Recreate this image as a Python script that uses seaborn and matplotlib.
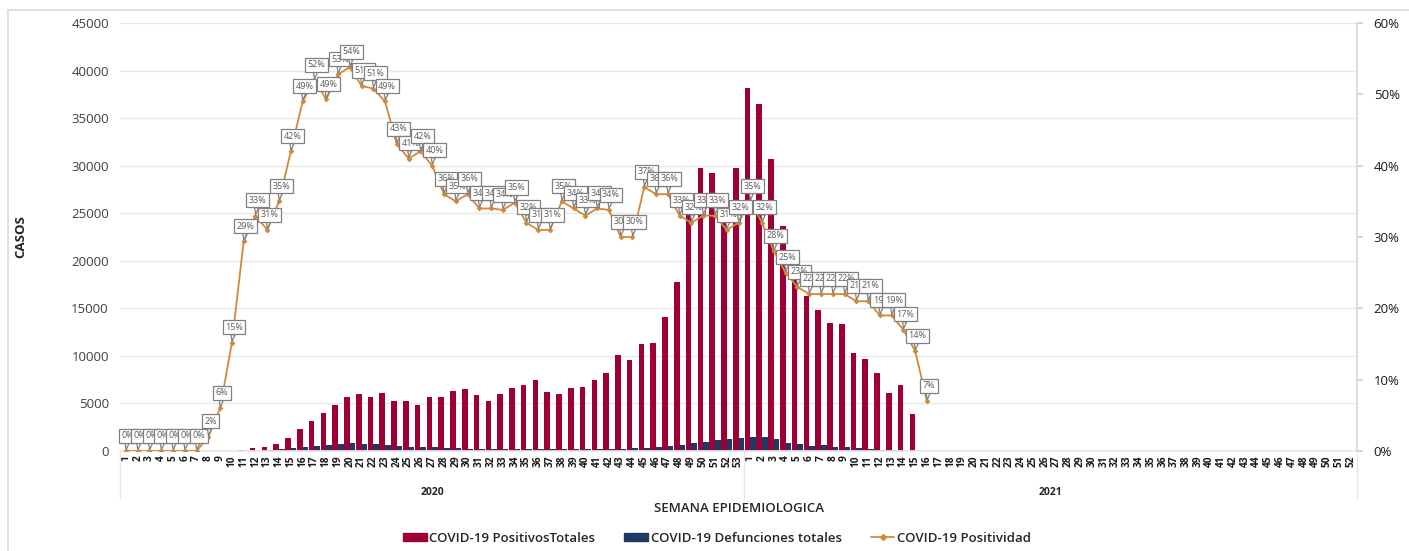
import numpy as np
import pandas as pd
import seaborn as sns
import matplotlib.pyplot as plt
from matplotlib.lines import Line2D
from matplotlib.patches import Patch, Rectangle
import matplotlib.transforms as mtransforms
from matplotlib.ticker import PercentFormatter

# epidemiological weeks (2020 has 53, 2021 has 52)
semanas_2020 = [str(s) for s in range(1, 54)]
semanas_2021 = [str(s) for s in range(1, 53)]

# weekly positive cases, 2020 then 2021
positivos_2020 = [0, 0, 0, 0, 0, 0, 0, 0, 0, 0,
                  150, 280, 420, 700, 1330, 2280, 3190, 4000, 4870, 5710,
                  5990, 5710, 6100, 5220, 5250, 4800, 5710, 5640, 6340, 6480,
                  5850, 5260, 6030, 6660, 6970, 7470, 6170, 5990, 6620, 6760,
                  7430, 8240, 10130, 9570, 11220, 11390, 14060, 17740, 25500, 29760,
                  29180, 25500, 29760]
positivos_2021 = [38130, 36490, 30700, 23660, 19000, 16300, 14870, 13500, 13400, 10270,
                  9680, 8200, 6100, 6940, 3860] + [0] * 37

# weekly deaths
defunciones_2020 = [0, 0, 0, 0, 0, 0, 0, 0, 0, 0,
                    0, 0, 80, 200, 280, 420, 530, 670, 700, 880,
                    700, 700, 670, 490, 420, 385, 385, 280, 280, 250,
                    250, 230, 220, 220, 220, 230, 220, 210, 200, 200,
                    220, 230, 260, 300, 350, 420, 530, 630, 880, 980,
                    1120, 1260, 1370]
defunciones_2021 = [1500, 1510, 1230, 880, 740, 560, 630, 420, 420, 315,
                    250, 140, 100, 50, 0] + [0] * 37

# positivity rate
positividad_2020 = [0, 0, 0, 0, 0, 0, 0, 0.02, 0.06, 0.152,
                    0.294, 0.33, 0.31, 0.35, 0.42, 0.49, 0.52, 0.493, 0.528, 0.538,
                    0.512, 0.508, 0.49, 0.43, 0.41, 0.42, 0.40, 0.36, 0.35, 0.36,
                    0.34, 0.34, 0.338, 0.348, 0.32, 0.31, 0.31, 0.35, 0.34, 0.33,
                    0.34, 0.338, 0.30, 0.30, 0.37, 0.36, 0.36, 0.33, 0.32, 0.33,
                    0.33, 0.31, 0.32]
positividad_2021 = [0.35, 0.32, 0.28, 0.25, 0.23, 0.22, 0.22, 0.22, 0.22, 0.21,
                    0.21, 0.19, 0.19, 0.17, 0.14, 0.07]

etiquetas = semanas_2020 + semanas_2021
n = len(etiquetas)
pos = list(range(n))

c_pos = '#9C0036'
c_def = '#203864'
c_lin = '#D3893A'

df = pd.DataFrame({
    'pos': pos * 2,
    'valor': positivos_2020 + positivos_2021 + defunciones_2020 + defunciones_2021,
    'serie': ['COVID-19 PositivosTotales'] * n + ['COVID-19 Defunciones totales'] * n,
})
pos_df = pd.DataFrame({
    'pos': pos[:len(positividad_2020) + len(positividad_2021)],
    'positividad': positividad_2020 + positividad_2021,
})

sns.set_theme(style='white')
plt.rcParams['font.family'] = ['Open Sans', 'DejaVu Sans']

fig = plt.figure(figsize=(14.09, 5.51), dpi=100)
ax = fig.add_axes([120 / 1409, 1 - 451 / 551, (1357 - 120) / 1409, (451 - 23) / 551])

sns.barplot(data=df, x='pos', y='valor', hue='serie', order=pos,
            palette=[c_pos, c_def], width=0.95, dodge=True, saturation=1,
            linewidth=0, edgecolor='none', ax=ax, legend=False)
ax.set_xlim(-0.5, n - 0.5)
ax.set_ylim(0, 45000)
ax.set_yticks(range(0, 45001, 5000))
ax.tick_params(axis='y', labelsize=9.5, colors='#404040', length=0, pad=8)
ax.yaxis.grid(True, color='#E8E8E8', lw=1)
ax.set_axisbelow(True)
ax.set_xticks(pos)
ax.set_xticklabels(etiquetas, rotation=90, fontsize=7.3, fontweight='bold', color='#1a1a1a')
ax.tick_params(axis='x', length=0, pad=3)
for s in ['top', 'left', 'right']:
    ax.spines[s].set_visible(False)
ax.spines['bottom'].set_color('#E8E8E8')
ax.set_xlabel('')
ax.set_ylabel('CASOS', fontsize=9.5, fontweight='bold')
ax.yaxis.set_label_coords((27 - 120) / 1237, 0.5)

ax2 = ax.twinx()
sns.lineplot(data=pos_df, x='pos', y='positividad', color=c_lin, lw=1.3,
             marker='D', markersize=3, markeredgewidth=0, ax=ax2)
ax2.set_ylim(0, 0.6)
ax2.set_yticks(np.arange(0, 0.61, 0.1))
ax2.yaxis.set_major_formatter(PercentFormatter(1.0, decimals=0))
ax2.tick_params(axis='y', labelsize=9.5, colors='#1a1a1a', length=4, color='#D0D0D0', pad=8)
ax2.set_ylabel('')
ax2.set_xlabel('')
for s in ['top', 'left', 'bottom']:
    ax2.spines[s].set_visible(False)
ax2.spines['right'].set_color('#D9D9D9')
ax2.spines['right'].set_bounds(0, 0.6)

for x, v in zip(pos_df['pos'], pos_df['positividad']):
    ax2.annotate(f'{v:.0%}', xy=(x, v), xytext=(1.5, 11), textcoords='offset points',
                 ha='center', va='center', fontsize=6.5, color='#595959',
                 bbox=dict(boxstyle='square,pad=0.28', fc='white', ec='#808080', lw=0.9),
                 arrowprops=dict(arrowstyle='wedge,tail_width=0.45', fc='white',
                                 ec='#808080', lw=0.9, shrinkA=0, shrinkB=1))

# category group labels under the axis
trans = mtransforms.blended_transform_factory(ax.transData, ax.transAxes)
for xb in [-0.5, len(semanas_2020) - 0.5, n - 0.5]:
    ax.plot([xb, xb], [0, -0.11], transform=trans, color='#E6E6E6', lw=1, clip_on=False)
ax.text((len(semanas_2020) - 1) / 2, -0.097, '2020', transform=trans, ha='center',
        va='center', fontsize=7.5, fontweight='bold')
ax.text(len(semanas_2020) + (len(semanas_2021) - 1) / 2, -0.097, '2021', transform=trans,
        ha='center', va='center', fontsize=7.5, fontweight='bold')
fig.text(739 / 1409, 1 - 509 / 551, 'SEMANA EPIDEMIOLOGICA', ha='center', va='center',
         fontsize=9.5, fontweight='semibold')

handles = [Patch(color=c_pos), Patch(color=c_def),
           Line2D([], [], color=c_lin, marker='D', markersize=3, lw=1.3)]
fig.legend(handles, ['COVID-19 PositivosTotales', 'COVID-19 Defunciones totales',
                     'COVID-19 Positividad'],
           loc='center', bbox_to_anchor=(717 / 1409, 1 - 538 / 551), ncol=3,
           frameon=False, handlelength=1.8, handleheight=0.6,
           handletextpad=0.2, columnspacing=2.2,
           prop={'weight': 'semibold', 'size': 9.5})

fig.patches.append(Rectangle((8 / 1409, -0.02), 1.02, 1.02 - 10 / 551,
                             transform=fig.transFigure, fill=False,
                             ec='#D9D9D9', lw=1.2))

fig.savefig('out.png', dpi=100)
